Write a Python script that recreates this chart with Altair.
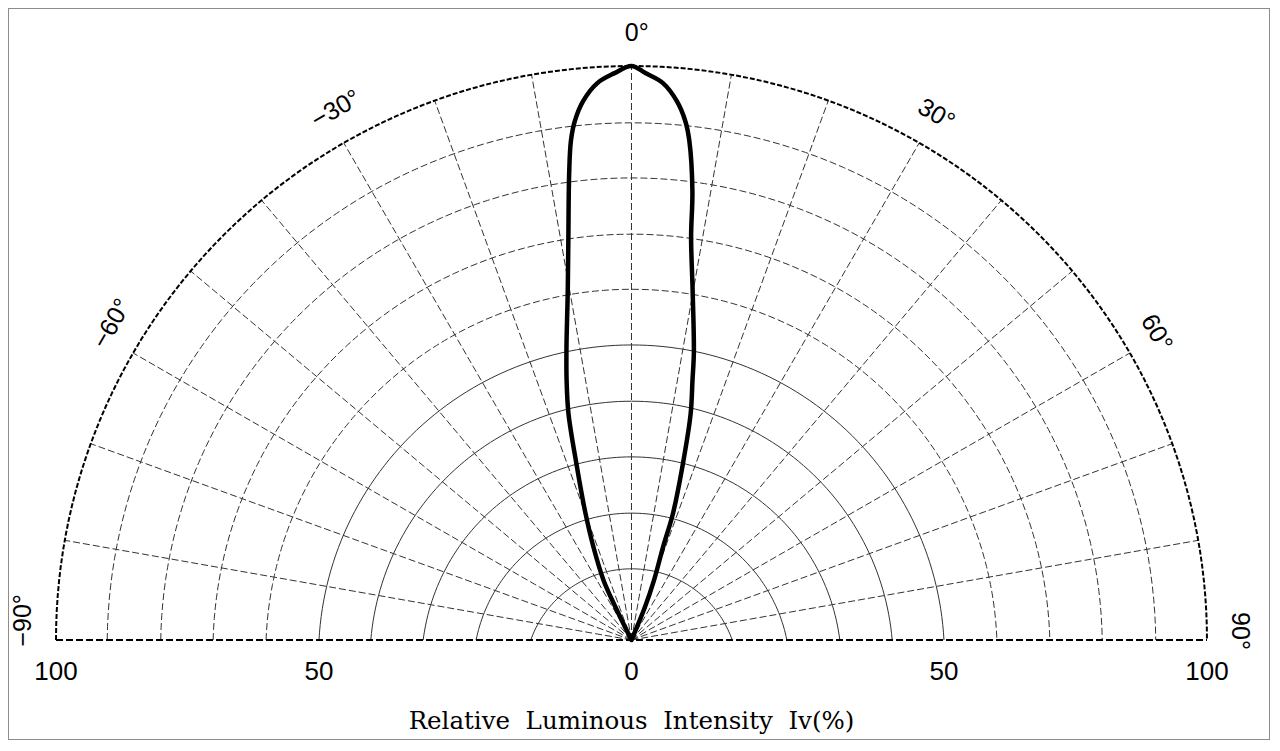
import altair as alt
import pandas as pd

# ---- values ----
# beam pattern: angle (deg) vs relative luminous intensity (%)
beam_angle = [-29.0, -25.9, -25.0, -22.2, -19.9, -17.3, -15.5, -14.0, -12.5, -10.4,
              -8.9, -7.6, -6.9, -6.2, -5.1, -3.5, -1.7, 0.0, 1.4, 3.2, 4.8, 5.9,
              6.6, 7.7, 8.4, 9.9, 12.2, 13.2, 14.6, 16.2, 18.1, 18.7, 20.6, 22.2, 25.0]
beam_intensity = [0.0, 6.4, 11.5, 17.5, 23.5, 32.2, 41.0, 46.6, 52.2, 61.4,
                  70.9, 81.9, 87.6, 91.0, 94.3, 97.2, 98.8, 100.0, 98.8, 97.2, 94.2, 90.9,
                  87.5, 79.0, 70.9, 61.8, 51.3, 46.4, 40.8, 32.1, 23.2, 17.1, 11.1, 6.2, 0.0]

# grid rings (10 % steps): extent at the top and at the sides, as drawn in the reference
ring_top = [12.4, 22.1, 31.9, 41.6, 51.4, 61.1, 70.7, 80.5, 90.1, 100.0]
ring_side = [17.5, 27.0, 36.2, 45.3, 54.3, 63.5, 72.7, 81.8, 91.1, 100.0]
ring_kind = ["solid"] * 5 + ["dashed"] * 4 + ["outer"]

spoke_angles = [-80, -70, -60, -50, -40, -30, -20, -10, 0, 10, 20, 30, 40, 50, 60, 70, 80]

angle_labels = ["\u221290\u00b0", "\u221260\u00b0", "\u221230\u00b0", "0\u00b0", "30\u00b0", "60\u00b0", "90\u00b0"]
angle_values = [-90, -60, -30, 0, 30, 60, 90]

tick_labels = ["100", "50", "0", "50", "100"]
tick_rings = [-10, -5, 0, 5, 10]

axis_title = "Relative\u00a0 Luminous\u00a0 Intensity\u00a0 Iv(%)"

# ---- tables ----
N = 120
ring_rows = []
for i, (t, s, kd) in enumerate(zip(ring_top, ring_side, ring_kind)):
    for k in range(N + 1):
        ring_rows.append({"ring": i, "top": t, "side": s, "kind": kd, "k": k})
rings = pd.DataFrame(ring_rows)

beam = pd.DataFrame({"angle": beam_angle, "I": beam_intensity,
                     "o": list(range(len(beam_angle)))})
spokes = pd.DataFrame({"a": spoke_angles})
alabels = pd.DataFrame({"label": angle_labels, "a": angle_values})
ticks = pd.DataFrame({
    "label": tick_labels,
    "pos": [(1 if r > 0 else -1) * ring_side[abs(r) - 1] if r != 0 else 0.0 for r in tick_rings],
})
base_line = pd.DataFrame({"x": [-ring_side[-1]], "x2": [ring_side[-1]], "y": [0.0]})
title_df = pd.DataFrame({"t": [axis_title]})

XS = alt.Scale(domain=[-108.34, 110.95], nice=False, zero=False)
YS = alt.Scale(domain=[-17.42, 110.10], nice=False, zero=False)
GRID = "#333333"
FONT_NUM = "Liberation Sans Narrow, Liberation Sans, Arial"

ring_base = alt.Chart(rings).transform_calculate(
    rho="(datum.side*datum.side + datum.top*datum.top)/(2*datum.top)"
).transform_calculate(
    c="datum.rho - datum.top"
).transform_calculate(
    pm="acos(datum.c/datum.rho)"
).transform_calculate(
    phi="(datum.k/%d*2-1)*datum.pm" % N
).transform_calculate(
    x="datum.rho*sin(datum.phi)", y="datum.rho*cos(datum.phi) - datum.c"
)
ring_enc = dict(
    x=alt.X("x:Q", scale=XS, axis=None),
    y=alt.Y("y:Q", scale=YS, axis=None),
    detail="ring:N",
    order="k:Q",
)
rings_solid = ring_base.transform_filter("datum.kind == 'solid'").mark_line(
    color=GRID, strokeWidth=1).encode(**ring_enc)
rings_dashed = ring_base.transform_filter("datum.kind == 'dashed'").mark_line(
    color=GRID, strokeWidth=1, strokeDash=[7, 3]).encode(**ring_enc)
ring_outer = ring_base.transform_filter("datum.kind == 'outer'").mark_line(
    color="black", strokeWidth=2, strokeDash=[5, 2]).encode(**ring_enc)

spoke_layer = alt.Chart(spokes).transform_calculate(
    x0="0", y0="0",
    x2="100*sin(datum.a*PI/180)", y2="100*cos(datum.a*PI/180)"
).mark_rule(color=GRID, strokeWidth=1, strokeDash=[7, 3]).encode(
    x=alt.X("x0:Q", scale=XS, axis=None), y=alt.Y("y0:Q", scale=YS, axis=None),
    x2="x2:Q", y2="y2:Q",
)

baseline = alt.Chart(base_line).mark_rule(
    color="black", strokeWidth=2.2, strokeDash=[7, 3]).encode(
    x=alt.X("x:Q", scale=XS, axis=None), x2="x2:Q",
    y=alt.Y("y:Q", scale=YS, axis=None),
)

beam_layer = alt.Chart(beam).transform_calculate(
    x="datum.I*sin(datum.angle*PI/180)", y="datum.I*cos(datum.angle*PI/180)"
).mark_line(color="black", strokeWidth=4.5, interpolate="catmull-rom",
            strokeJoin="round", strokeCap="round").encode(
    x=alt.X("x:Q", scale=XS, axis=None), y=alt.Y("y:Q", scale=YS, axis=None),
    order="o:Q",
)

label_layer = alt.Chart(alabels).transform_calculate(
    p="(datum.a*0.985 + 0.5)*PI/180"
).transform_calculate(
    x="105.8*sin(datum.p)", y="105.8*cos(datum.p)", rot="(datum.a + 360) % 360"
).mark_text(font=FONT_NUM, fontSize=25, color="black", align="center",
            baseline="middle").encode(
    x=alt.X("x:Q", scale=XS, axis=None), y=alt.Y("y:Q", scale=YS, axis=None),
    text="label:N", angle=alt.Angle("rot:Q", scale=None),
)

tick_layer = alt.Chart(ticks).transform_calculate(y="-7").mark_text(
    font=FONT_NUM, fontSize=26, color="black", align="center",
    baseline="alphabetic").encode(
    x=alt.X("pos:Q", scale=XS, axis=None), y=alt.Y("y:Q", scale=YS, axis=None),
    text="label:N",
)

title_layer = alt.Chart(title_df).transform_calculate(x="0", y="-15.5").mark_text(
    font="DejaVu Serif", fontSize=24.5, color="black", align="center",
    baseline="alphabetic").encode(
    x=alt.X("x:Q", scale=XS, axis=None), y=alt.Y("y:Q", scale=YS, axis=None),
    text="t:N",
)

chart = alt.layer(
    rings_solid, rings_dashed, spoke_layer, ring_outer, baseline,
    beam_layer, label_layer, tick_layer, title_layer,
).properties(
    width=1262, height=732, padding=0, autosize=alt.AutoSizeParams(type="none"),
    background="white",
).configure_view(stroke="#8c8c8c", strokeWidth=2)

chart.save("out.html", embed_options={"renderer": "svg", "actions": False})
